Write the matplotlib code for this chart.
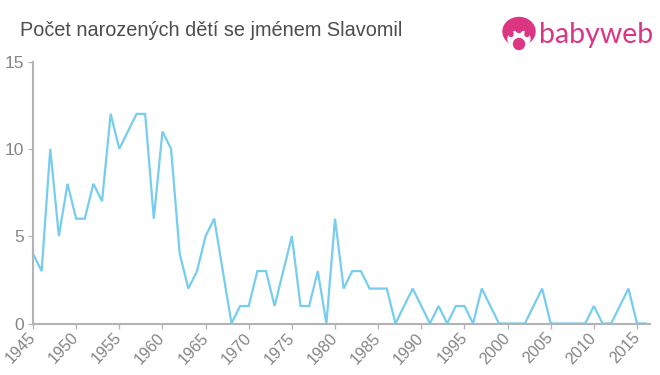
import matplotlib
matplotlib.use('Agg')
import matplotlib.pyplot as plt
from matplotlib.patches import Circle, Ellipse

plt.rcParams['font.family'] = ['Liberation Sans', 'DejaVu Sans']

W, H = 660, 375

title = 'Počet narozených dětí se jménem Slavomil'
brand = 'babyweb'
years = list(range(1945, 2017))
counts = [4, 3, 10, 5, 8, 6, 6, 8, 7, 12,
          10, 11, 12, 12, 6, 11, 10, 4, 2, 3,
          5, 6, 3, 0, 1, 1, 3, 3, 1, 3,
          5, 1, 1, 3, 0, 6, 2, 3, 3, 2,
          2, 2, 0, 1, 2, 1, 0, 1, 0, 1,
          1, 0, 2, 1, 0, 0, 0, 0, 1, 2,
          0, 0, 0, 0, 0, 1, 0, 0, 1, 2,
          0, 0]
xticks = list(range(1945, 2016, 5))
yticks = [0, 5, 10, 15]

fig = plt.figure(figsize=(W / 100, H / 100), dpi=100)
ax = fig.add_axes([33 / W, 1 - 323.5 / H, (650 - 33) / W, (323.5 - 61.5) / H])

ax.plot(years, counts, color='#76cdee', lw=1.6, solid_joinstyle='miter', clip_on=False, zorder=1)
ax.set_xlim(1945, 2016.5)
ax.set_ylim(0, 15)
ax.set_xticks(xticks)
ax.set_yticks(yticks)
ax.tick_params(axis='both', length=3.4, width=0.9, color='#b3b3b3', labelcolor='#858585')
ax.tick_params(axis='x', labelsize=11.6, pad=5)
ax.tick_params(axis='y', labelsize=12.5, pad=3)
ax.set_xticklabels(xticks, rotation=47, ha='right', va='center', rotation_mode='anchor')
for side in ['top', 'right']:
    ax.spines[side].set_visible(False)
for side in ['left', 'bottom']:
    ax.spines[side].set_color('#b3b3b3')
    ax.spines[side].set_linewidth(1.5)
    ax.spines[side].set_zorder(3)

fig.text(20 / W, 1 - 30 / H, title, fontsize=14.3, color='#4d4d4d', va='center', ha='left')

# logo, drawn in pixel coordinates
logo = fig.add_axes([0, 0, 1, 1], facecolor='none')
logo.set_xlim(0, W)
logo.set_ylim(H, 0)
logo.axis('off')
pink = '#dc3583'
logo.add_patch(Ellipse((519, 31.5), 32, 28, color=pink))
logo.add_patch(Ellipse((519, 39), 22, 16, color='white'))
logo.add_patch(Ellipse((511, 34), 4, 5, color=pink))
logo.add_patch(Ellipse((527, 34), 4, 5, color=pink))
logo.add_patch(Ellipse((519, 29), 6, 7, color=pink))
logo.add_patch(Circle((519, 44), 7, color='white'))
logo.add_patch(Circle((519, 44), 5.5, color=pink))
logo.text(539, 34.5, brand, fontsize=20.5, color=pink, va='center', ha='left', family='Lato')

fig.savefig('out.png', dpi=100)
